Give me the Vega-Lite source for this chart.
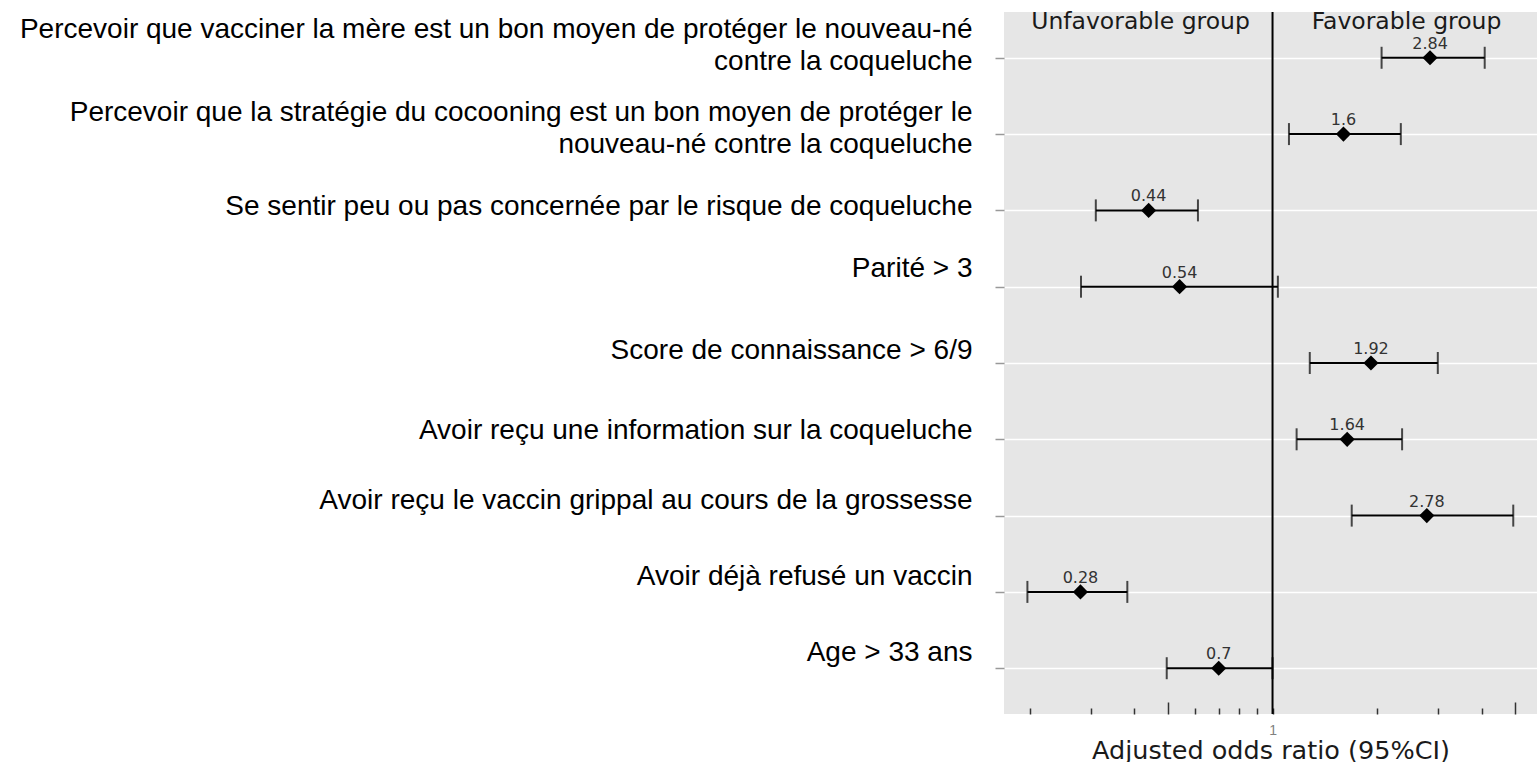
{
  "$schema": "https://vega.github.io/schema/vega-lite/v6.json",
  "width": 533,
  "height": 702,
  "padding": {"left": 0, "top": 9, "right": 0, "bottom": 0},
  "background": "white",
  "config": {"view": {"fill": "#E6E6E6", "stroke": null}},
  "datasets": {
    "rows": [
      {"factor": "Percevoir que vacciner la mère est un bon moyen de protéger le nouveau-né\ncontre la coqueluche", "or": 2.84, "lo": 2.06, "hi": 4.08},
      {"factor": "Percevoir que la stratégie du cocooning est un bon moyen de protéger le\nnouveau-né contre la coqueluche", "or": 1.6, "lo": 1.115, "hi": 2.34},
      {"factor": "Se sentir peu ou pas concernée par le risque de coqueluche", "or": 0.44, "lo": 0.31, "hi": 0.61},
      {"factor": "Parité > 3", "or": 0.54, "lo": 0.281, "hi": 1.036},
      {"factor": "Score de connaissance > 6/9", "or": 1.92, "lo": 1.28, "hi": 2.99},
      {"factor": "Avoir reçu une information sur la coqueluche", "or": 1.64, "lo": 1.173, "hi": 2.36},
      {"factor": "Avoir reçu le vaccin grippal au cours de la grossesse", "or": 2.78, "lo": 1.69, "hi": 4.93},
      {"factor": "Avoir déjà refusé un vaccin", "or": 0.28, "lo": 0.197, "hi": 0.382},
      {"factor": "Age > 33 ans", "or": 0.7, "lo": 0.496, "hi": 1.0}
    ],
    "groups": [
      {"grp": "Unfavorable group", "pos": 0.417},
      {"grp": "Favorable group", "pos": 2.43}
    ],
    "ref": [{"ref": 1}]
  },
  "layer": [
    {
      "data": {"name": "rows"},
      "mark": {"type": "rule", "color": "black", "strokeWidth": 2},
      "encoding": {
        "x": {"field": "lo", "type": "quantitative", "scale": {"type": "log", "domain": [0.1687, 5.77], "nice": false},
          "axis": {"orient": "bottom", "values": [0.2, 0.3, 0.4, 0.5, 0.6, 0.7, 0.8, 0.9, 1, 2, 3, 4, 5], "domain": false, "grid": false,
            "tickColor": "#333333", "tickWidth": 1.5,
            "tickSize": {"condition": {"test": "datum.value == 0.5 || datum.value == 5", "value": -12}, "value": -6},
            "labelExpr": "datum.value == 1 ? '1' : ''", "labelFont": "Liberation Sans", "labelFontSize": 14, "labelColor": "#808080", "labelPadding": 15,
            "title": "Adjusted odds ratio (95%CI)", "titleFont": "DejaVu Sans", "titleFontSize": 25.5, "titleFontWeight": "normal",
            "titleColor": "#1a1a1a", "titlePadding": 1}},
        "x2": {"field": "hi"},
        "y": {"field": "factor", "type": "nominal", "sort": null, "scale": {"type": "point", "padding": 0.6},
          "axis": {"title": null, "domain": false, "tickColor": "#999999", "tickSize": 9, "tickWidth": 1.5,
            "grid": true, "gridColor": "white", "gridWidth": 1.5,
            "labelFont": "Liberation Sans", "labelFontSize": 28, "labelColor": "black", "labelPadding": 23,
            "labelLimit": 1000, "labelLineHeight": 32, "labelExpr": "split(datum.label, '\\n')",
            "minExtent": 1004, "maxExtent": 1004,
            "labelOffset": {"condition": [
              {"test": "indexof(datum.value, 'vacciner la mère') >= 0", "value": -28},
              {"test": "indexof(datum.value, 'stratégie') >= 0", "value": -22},
              {"test": "indexof(datum.value, 'Se sentir') >= 0", "value": -4},
              {"test": "indexof(datum.value, 'Parité') >= 0", "value": -18},
              {"test": "indexof(datum.value, 'Score') >= 0", "value": -13},
              {"test": "indexof(datum.value, 'information') >= 0", "value": -9},
              {"test": "indexof(datum.value, 'grippal') >= 0", "value": -15},
              {"test": "indexof(datum.value, 'refusé') >= 0", "value": -15}
            ], "value": -16}
          }}
      }
    },
    {
      "data": {"name": "ref"},
      "mark": {"type": "rule", "color": "black", "strokeWidth": 2},
      "encoding": {
        "x": {"field": "ref", "type": "quantitative"}
      }
    },
    {
      "data": {"name": "rows"},
      "mark": {"type": "tick", "color": "black", "size": 22, "thickness": 2},
      "encoding": {
        "x": {"field": "lo", "type": "quantitative"},
        "y": {"field": "factor", "type": "nominal", "sort": null}
      }
    },
    {
      "data": {"name": "rows"},
      "mark": {"type": "tick", "color": "black", "size": 22, "thickness": 2},
      "encoding": {
        "x": {"field": "hi", "type": "quantitative"},
        "y": {"field": "factor", "type": "nominal", "sort": null}
      }
    },
    {
      "data": {"name": "rows"},
      "mark": {"type": "point", "shape": "diamond", "filled": true, "color": "black", "size": 230, "opacity": 1},
      "encoding": {
        "x": {"field": "or", "type": "quantitative"},
        "y": {"field": "factor", "type": "nominal", "sort": null}
      }
    },
    {
      "data": {"name": "rows"},
      "mark": {"type": "text", "font": "DejaVu Sans", "fontSize": 16, "color": "#333333", "dy": -14, "baseline": "middle"},
      "encoding": {
        "x": {"field": "or", "type": "quantitative"},
        "y": {"field": "factor", "type": "nominal", "sort": null},
        "text": {"field": "or", "type": "nominal"}
      }
    },
    {
      "data": {"name": "groups"},
      "mark": {"type": "text", "font": "DejaVu Sans", "fontSize": 23.5, "color": "#1a1a1a", "dy": -36, "baseline": "middle"},
      "encoding": {
        "x": {"field": "pos", "type": "quantitative"},
        "y": {"datum": "Percevoir que vacciner la mère est un bon moyen de protéger le nouveau-né\ncontre la coqueluche", "type": "nominal"},
        "text": {"field": "grp", "type": "nominal"}
      }
    }
  ]
}
